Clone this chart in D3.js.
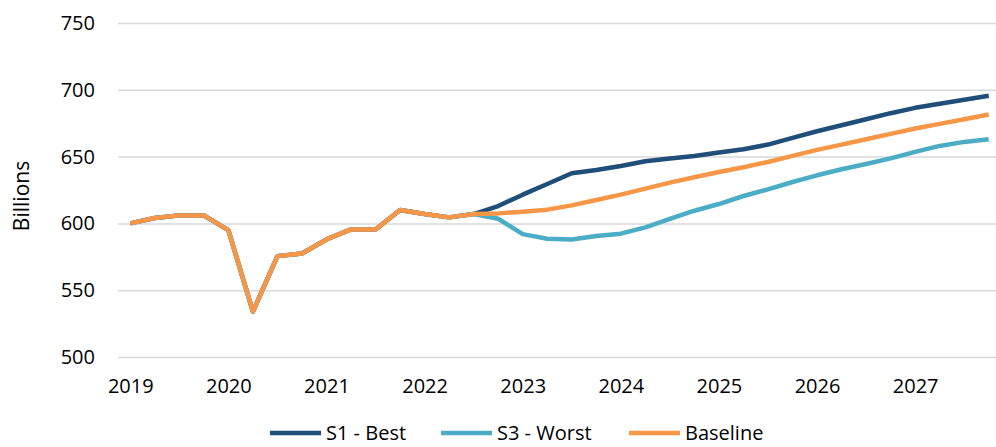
<!DOCTYPE html>
<html>
<head>
<meta charset="utf-8">
<script src="https://cdn.jsdelivr.net/npm/d3@7"></script>
<style>
  body { margin: 0; background: #fff; }
  svg { display: block; font-family: "Open Sans", sans-serif; }
</style>
</head>
<body>
<div id="chart"></div>
<script>
// quarterly points, 2019 Q1 .. 2027 Q4
var quarters = ['2019Q1','2019Q2','2019Q3','2019Q4','2020Q1','2020Q2','2020Q3','2020Q4',
  '2021Q1','2021Q2','2021Q3','2021Q4','2022Q1','2022Q2','2022Q3','2022Q4',
  '2023Q1','2023Q2','2023Q3','2023Q4','2024Q1','2024Q2','2024Q3','2024Q4',
  '2025Q1','2025Q2','2025Q3','2025Q4','2026Q1','2026Q2','2026Q3','2026Q4',
  '2027Q1','2027Q2','2027Q3','2027Q4']

var yearLabels = ['2019','2020','2021','2022','2023','2024','2025','2026','2027']
var yTicks = [500, 550, 600, 650, 700, 750]

var s1Best = [600, 604, 606, 606, 595, 534, 575.5, 577.5, 588, 595.5, 595.5, 610, 607, 604.5, 607,
  613, 621.5, 629.5, 637.5, 640, 643, 646.5, 648.5, 650.5, 653, 655.5, 659, 664, 669, 673.5,
  678, 682.5, 686.5, 689.5, 692.5, 695.5]

var s3Worst = [600, 604, 606, 606, 595, 534, 575.5, 577.5, 588, 595.5, 595.5, 610, 607, 604.5, 607,
  603.5, 592, 588.5, 588, 590.5, 592.3, 597, 603.3, 609.5, 614.5, 620.5, 625.5, 631, 636, 640.5,
  644.5, 648.7, 653.5, 658, 661, 663]

var baseline = [600, 604, 606, 606, 595, 534, 575.5, 577.5, 588, 595.5, 595.5, 610, 607, 604.5, 607,
  607.5, 608.8, 610.3, 613.5, 617.5, 621.5, 626, 630.5, 634.5, 638.5, 642, 646, 650.5, 655, 659,
  663, 667, 671, 674.5, 678, 681.5]

var seriesNames = ['S1 - Best', 'S3 - Worst', 'Baseline']
var seriesColors = ['#1f4e79', '#4bacc6', '#f79646']

var W = 996, H = 447
var svg = d3.select('#chart').append('svg').attr('width', W).attr('height', H)

var plotLeft = 118, plotRight = 1001
var step = (plotRight - plotLeft) / quarters.length

var x = d3.scalePoint().domain(quarters).range([plotLeft + step/2, plotRight - step/2])
var y = d3.scaleLinear().domain([500, 750]).range([357, 23])

// y axis + gridlines
var yAxis = svg.append('g')
  .attr('transform', 'translate(' + plotLeft + ',0)')
  .call(d3.axisLeft(y).tickValues(yTicks).tickSize(-(W - plotLeft)).tickPadding(23))
yAxis.select('.domain').remove()
yAxis.selectAll('line').attr('stroke', '#d9d9d9').attr('stroke-width', 1.5)
yAxis.selectAll('text').attr('font-size', 20).attr('fill', '#000').attr('font-family', '"Open Sans", sans-serif')

// x axis (year labels at Q1)
var xAxis = svg.append('g')
  .attr('transform', 'translate(0,' + y(500) + ')')
  .call(d3.axisBottom(x)
    .tickValues(yearLabels.map(function(yr){ return yr + 'Q1' }))
    .tickFormat(function(q){ return q.slice(0, 4) })
    .tickSize(0).tickPadding(22))
xAxis.select('.domain').remove()
xAxis.selectAll('text').attr('font-size', 20).attr('fill', '#000').attr('font-family', '"Open Sans", sans-serif')

// axis title
svg.append('text')
  .attr('transform', 'translate(29,196) rotate(-90)')
  .attr('text-anchor', 'middle')
  .attr('font-size', 21)
  .attr('fill', '#000')
  .text('Billions')

var line = d3.line()
  .x(function(d, i){ return x(quarters[i]) })
  .y(function(d){ return y(d) })

var allSeries = [s1Best, s3Worst, baseline]
allSeries.forEach(function(vals, k){
  svg.append('path')
    .datum(vals)
    .attr('d', line)
    .attr('fill', 'none')
    .attr('stroke', seriesColors[k])
    .attr('stroke-width', 4.5)
    .attr('stroke-linejoin', 'round')
})

// legend along the bottom edge
var legendX = [270, 441, 629]
seriesNames.forEach(function(name, k){
  var g = svg.append('g').attr('transform', 'translate(' + legendX[k] + ',433)')
  g.append('line').attr('x1', 0).attr('x2', 51).attr('y1', 0).attr('y2', 0)
    .attr('stroke', seriesColors[k]).attr('stroke-width', 4.5)
  g.append('text').attr('x', 56).attr('y', 7).attr('font-size', 20).attr('fill', '#000').text(name)
})
</script>
</body>
</html>
